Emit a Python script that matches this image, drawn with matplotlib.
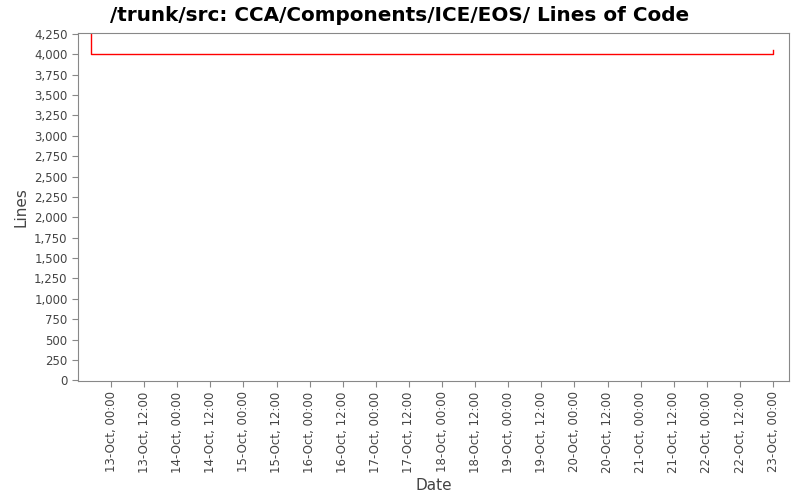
import datetime as dt

import matplotlib
matplotlib.use("Agg")
import matplotlib.dates as mdates
import matplotlib.pyplot as plt
from matplotlib.ticker import FuncFormatter, MultipleLocator

# line count history (step plot, last value held)
dates = [dt.datetime(2008, 10, 12, 16, 45),
         dt.datetime(2008, 10, 12, 16, 46),
         dt.datetime(2008, 10, 23, 0, 0),
         dt.datetime(2008, 10, 23, 0, 5)]
lines = [4500, 4003, 4003, 4048]

x_start = dt.datetime(2008, 10, 12, 12, 2)
x_end = dt.datetime(2008, 10, 23, 5, 50)

grey = "#444444"

fig = plt.figure(figsize=(8, 5), dpi=100)
ax = fig.add_axes([0.0975, 0.238, 0.889, 0.696])

ax.step(dates, lines, where="pre", color="red", linewidth=1.0)

ax.set_xlim(x_start, x_end)
ax.set_ylim(-8, 4262)
ax.yaxis.set_major_locator(MultipleLocator(250))
ax.yaxis.set_major_formatter(FuncFormatter(lambda v, p: f"{int(v):,}"))
ax.xaxis.set_major_locator(mdates.HourLocator(byhour=[0, 12]))
ax.xaxis.set_major_formatter(mdates.DateFormatter("%d-%b, %H:%M"))

for lbl in ax.get_xticklabels():
    lbl.set_rotation(90)

ax.tick_params(axis="both", colors="#888888", labelcolor=grey,
               labelsize=8.5, length=4, direction="out")
for s in ax.spines.values():
    s.set_color("#888888")

ax.set_xlabel("Date", fontsize=11, color=grey)
ax.set_ylabel("Lines", fontsize=11, color=grey)
fig.suptitle("/trunk/src: CCA/Components/ICE/EOS/ Lines of Code",
             fontsize=14.4, fontweight="bold", y=0.988)

fig.savefig("out.png", dpi=100)
